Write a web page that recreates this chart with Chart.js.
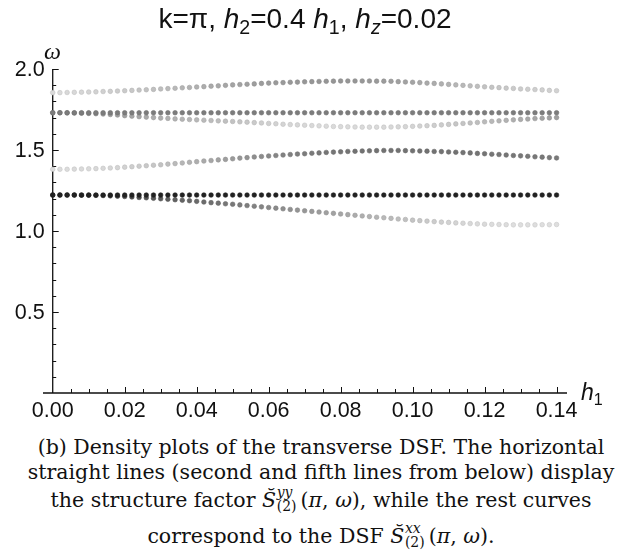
<!DOCTYPE html>
<html>
<head>
<meta charset="utf-8">
<script src="https://cdn.jsdelivr.net/npm/chart.js@4.4.1/dist/chart.umd.min.js"></script>
<style>
  body { margin: 0; background: #fff; }
  #wrap { position: relative; width: 632px; height: 554px; overflow: hidden; }
  #chart { position: absolute; left: 0; top: 0; }
  .lbl { position: absolute; white-space: nowrap; color: #111; }
  .lbl sub { font-size: 0.7em; line-height: 0; vertical-align: baseline; position: relative; top: 0.3em; }
  #title { left: 43px; width: 524px; top: 3px; text-align: center; font: 28px/32px "Liberation Sans", Arial, sans-serif; }
  #omega { left: 44px; top: 38px; font: italic 24px/26px "Liberation Serif", serif; }
  #hlab { left: 581px; top: 379px; font: italic 23px/26px "Liberation Sans", Arial, sans-serif; }
  .cap { position: absolute; left: 0; width: 642px; text-align: center; white-space: nowrap;
         font: 20.5px/1 "DejaVu Serif", serif; color: #111; }
  .ss { position: relative; display: inline-block; width: 1.2em; height: 0; }
  .ss span { position: absolute; left: 0.05em; font-size: 0.68em; line-height: 1; }
  .ss .up { bottom: 0.5em; font-style: italic; }
  .ss .dn { top: -0.5em; }
</style>
</head>
<body>
<div id="wrap">
  <canvas id="chart" width="632" height="430"></canvas>
  <div id="title" class="lbl">k=π, <i>h</i><sub>2</sub>=0.4 <i>h</i><sub>1</sub>, <i>h</i><sub><i>z</i></sub>=0.02</div>
  <div id="omega" class="lbl">ω</div>
  <div id="hlab" class="lbl">h<sub style="font-style:normal">1</sub></div>
  <div class="cap" style="top:437px">(b) Density plots of the transverse DSF. The horizontal</div>
  <div class="cap" style="top:462px">straight lines (second and fifth lines from below) display</div>
  <div class="cap" style="top:490px">the structure factor <i>S̆</i><span class="ss"><span class="up">yy</span><span class="dn">(2)</span></span>(<i>π</i>, <i>ω</i>), while the rest curves</div>
  <div class="cap" style="top:526px">correspond to the DSF <i>S̆</i><span class="ss"><span class="up">xx</span><span class="dn">(2)</span></span>(<i>π</i>, <i>ω</i>).</div>
</div>
<script>
// field h1 (x axis)
const h1 = [
  0.000, 0.002, 0.004, 0.006, 0.008, 0.010, 0.012, 0.014, 0.016, 0.018,
  0.020, 0.022, 0.024, 0.026, 0.028, 0.030, 0.032, 0.034, 0.036, 0.038,
  0.040, 0.042, 0.044, 0.046, 0.048, 0.050, 0.052, 0.054, 0.056, 0.058,
  0.060, 0.062, 0.064, 0.066, 0.068, 0.070, 0.072, 0.074, 0.076, 0.078,
  0.080, 0.082, 0.084, 0.086, 0.088, 0.090, 0.092, 0.094, 0.096, 0.098,
  0.100, 0.102, 0.104, 0.106, 0.108, 0.110, 0.112, 0.114, 0.116, 0.118,
  0.120, 0.122, 0.124, 0.126, 0.128, 0.130, 0.132, 0.134, 0.136, 0.138,
  0.140
];

// S^xx, top branch
const upperXX = [
  1.854, 1.854, 1.855, 1.856, 1.857, 1.858, 1.859, 1.861, 1.862, 1.864,
  1.866, 1.868, 1.870, 1.872, 1.874, 1.877, 1.879, 1.881, 1.884, 1.886,
  1.889, 1.891, 1.894, 1.896, 1.899, 1.902, 1.904, 1.906, 1.908, 1.911,
  1.913, 1.915, 1.916, 1.918, 1.919, 1.921, 1.922, 1.923, 1.924, 1.925,
  1.926, 1.926, 1.926, 1.926, 1.926, 1.925, 1.925, 1.924, 1.922, 1.920,
  1.918, 1.916, 1.913, 1.911, 1.908, 1.905, 1.902, 1.899, 1.896, 1.893,
  1.890, 1.887, 1.885, 1.882, 1.880, 1.877, 1.875, 1.873, 1.871, 1.868,
  1.866
];
const upperXXWeight = [
  6, 6, 7, 7, 8, 9, 10, 11, 12, 13,
  14, 15, 17, 18, 19, 20, 22, 23, 25, 26,
  27, 29, 30, 31, 32, 33, 34, 35, 36, 37,
  37, 38, 38, 39, 39, 40, 40, 40, 40, 40,
  40, 40, 40, 39, 39, 38, 37, 36, 35, 34,
  33, 31, 30, 29, 27, 26, 24, 23, 21, 20,
  18, 17, 16, 15, 14, 13, 12, 12, 11, 11,
  10
];

// S^yy, upper straight line
const upperYY = [
  1.730, 1.730, 1.730, 1.730, 1.730, 1.730, 1.730, 1.730, 1.730, 1.730,
  1.730, 1.730, 1.730, 1.730, 1.730, 1.730, 1.730, 1.730, 1.730, 1.730,
  1.730, 1.730, 1.730, 1.730, 1.730, 1.730, 1.730, 1.730, 1.730, 1.730,
  1.730, 1.730, 1.730, 1.730, 1.730, 1.730, 1.730, 1.730, 1.730, 1.730,
  1.730, 1.730, 1.730, 1.730, 1.730, 1.730, 1.730, 1.730, 1.730, 1.730,
  1.730, 1.730, 1.730, 1.730, 1.730, 1.730, 1.730, 1.730, 1.730, 1.730,
  1.730, 1.730, 1.730, 1.730, 1.730, 1.730, 1.730, 1.730, 1.730, 1.730,
  1.730
];
const upperYYWeight = 53;

// S^xx, branch just below the upper straight line
const dipXX = [
  1.730, 1.730, 1.729, 1.728, 1.727, 1.726, 1.724, 1.722, 1.719, 1.716,
  1.712, 1.709, 1.706, 1.703, 1.700, 1.697, 1.695, 1.692, 1.690, 1.688,
  1.686, 1.684, 1.682, 1.680, 1.678, 1.676, 1.674, 1.672, 1.669, 1.667,
  1.664, 1.662, 1.659, 1.657, 1.655, 1.653, 1.651, 1.649, 1.647, 1.645,
  1.644, 1.643, 1.642, 1.641, 1.641, 1.641, 1.641, 1.642, 1.643, 1.644,
  1.646, 1.648, 1.650, 1.652, 1.655, 1.658, 1.661, 1.664, 1.667, 1.670,
  1.674, 1.677, 1.680, 1.683, 1.686, 1.689, 1.691, 1.694, 1.696, 1.698,
  1.700
];
const dipXXWeight = [
  51, 50, 49, 47, 45, 43, 41, 39, 37, 35,
  34, 32, 31, 30, 29, 28, 27, 26, 25, 24,
  23, 22, 21, 20, 19, 18, 17, 15, 14, 12,
  11, 10, 9, 8, 8, 7, 7, 6, 6, 6,
  6, 6, 6, 6, 6, 6, 7, 7, 8, 8,
  9, 10, 11, 12, 13, 14, 16, 17, 19, 20,
  22, 23, 25, 26, 28, 29, 31, 32, 34, 35,
  36
];

// S^xx, rising middle branch
const riseXX = [
  1.381, 1.381, 1.381, 1.382, 1.383, 1.384, 1.385, 1.387, 1.389, 1.391,
  1.394, 1.397, 1.400, 1.403, 1.406, 1.409, 1.413, 1.416, 1.420, 1.424,
  1.428, 1.432, 1.435, 1.439, 1.442, 1.446, 1.450, 1.453, 1.457, 1.460,
  1.463, 1.466, 1.469, 1.472, 1.475, 1.477, 1.480, 1.482, 1.485, 1.487,
  1.489, 1.491, 1.492, 1.494, 1.495, 1.496, 1.497, 1.497, 1.497, 1.496,
  1.495, 1.494, 1.493, 1.491, 1.490, 1.488, 1.486, 1.484, 1.482, 1.479,
  1.477, 1.474, 1.472, 1.469, 1.466, 1.464, 1.461, 1.458, 1.456, 1.453,
  1.451
];
const riseXXWeight = [
  5, 5, 5, 6, 6, 6, 7, 7, 8, 9,
  10, 12, 13, 15, 16, 18, 20, 22, 24, 26,
  28, 30, 32, 34, 36, 38, 40, 42, 44, 45,
  47, 48, 50, 51, 52, 53, 54, 55, 56, 56,
  57, 57, 58, 58, 58, 58, 58, 58, 58, 58,
  58, 58, 58, 58, 58, 58, 58, 57, 57, 57,
  57, 56, 56, 56, 56, 55, 55, 55, 55, 54,
  54
];

// S^yy, lower straight line
const lowerYY = [
  1.222, 1.222, 1.222, 1.222, 1.222, 1.222, 1.222, 1.222, 1.222, 1.222,
  1.222, 1.222, 1.222, 1.222, 1.222, 1.222, 1.222, 1.222, 1.222, 1.222,
  1.222, 1.222, 1.222, 1.222, 1.222, 1.222, 1.222, 1.222, 1.222, 1.222,
  1.222, 1.222, 1.222, 1.222, 1.222, 1.222, 1.222, 1.222, 1.222, 1.222,
  1.222, 1.222, 1.222, 1.222, 1.222, 1.222, 1.222, 1.222, 1.222, 1.222,
  1.222, 1.222, 1.222, 1.222, 1.222, 1.222, 1.222, 1.222, 1.222, 1.222,
  1.222, 1.222, 1.222, 1.222, 1.222, 1.222, 1.222, 1.222, 1.222, 1.222,
  1.222
];
const lowerYYWeight = 98;

// S^xx, falling lowest branch
const fallXX = [
  1.222, 1.222, 1.222, 1.222, 1.221, 1.221, 1.220, 1.219, 1.217, 1.215,
  1.213, 1.210, 1.207, 1.205, 1.202, 1.199, 1.196, 1.193, 1.190, 1.187,
  1.183, 1.179, 1.175, 1.172, 1.168, 1.165, 1.161, 1.157, 1.153, 1.149,
  1.145, 1.141, 1.137, 1.133, 1.129, 1.125, 1.121, 1.117, 1.113, 1.109,
  1.105, 1.101, 1.097, 1.093, 1.089, 1.085, 1.082, 1.078, 1.074, 1.071,
  1.067, 1.064, 1.061, 1.058, 1.055, 1.053, 1.050, 1.048, 1.046, 1.044,
  1.042, 1.041, 1.040, 1.039, 1.038, 1.038, 1.038, 1.038, 1.039, 1.039,
  1.040
];
const fallXXWeight = [
  95, 94, 93, 91, 89, 87, 85, 83, 81, 79,
  77, 76, 74, 73, 71, 70, 68, 67, 65, 64,
  62, 61, 59, 58, 56, 55, 53, 52, 50, 49,
  47, 46, 44, 43, 41, 40, 38, 37, 35, 34,
  32, 31, 29, 28, 26, 25, 23, 22, 20, 19,
  17, 16, 14, 13, 11, 10, 9, 8, 7, 6,
  6, 5, 5, 5, 4, 4, 4, 4, 4, 4,
  4
];

const xTicks = [0, 0.02, 0.04, 0.06, 0.08, 0.10, 0.12, 0.14];
const yTicks = [0.5, 1.0, 1.5, 2.0];

const tickFont = '21.5px "Liberation Sans"';

function grey(w) {
  const g = Math.round(230 - 2 * w);
  return `rgb(${g},${g},${g})`;
}
function greyEdge(w) {
  const g = Math.round((230 - 2 * w) * 0.9);
  return `rgb(${g},${g},${g})`;
}

function makeSet(omega, weight) {
  const ws = Array.isArray(weight) ? weight : omega.map(() => weight);
  return {
    data: h1.map((h, i) => ({ x: h, y: omega[i] })),
    pointBackgroundColor: ws.map(grey),
    pointBorderColor: ws.map(greyEdge),
    pointBorderWidth: 0.6,
    pointRadius: 2.3,
    showLine: false
  };
}

// axes in the Mathematica style: y axis at h1 = 0, ticks pointing inwards
const axesPlugin = {
  id: "axes",
  beforeDatasetsDraw(chart) {
    const { ctx, scales: { x, y } } = chart;
    const x0 = x.getPixelForValue(0);
    const y0 = y.getPixelForValue(0);
    ctx.save();
    ctx.strokeStyle = "#111";
    ctx.lineWidth = 1.3;
    ctx.beginPath();
    ctx.moveTo(x.left, y0);
    ctx.lineTo(x.right, y0);
    ctx.moveTo(x0, y0);
    ctx.lineTo(x0, y.getPixelForValue(2.0));
    ctx.stroke();

    ctx.lineWidth = 1;
    ctx.beginPath();
    for (let k = 1; k <= 28; k++) {
      const px = Math.round(x.getPixelForValue(k * 0.005)) + 0.5;
      const len = k % 4 === 0 ? 6 : 4;
      ctx.moveTo(px, y0);
      ctx.lineTo(px, y0 - len);
    }
    for (let k = 1; k <= 20; k++) {
      const py = Math.round(y.getPixelForValue(k * 0.1)) + 0.5;
      const len = k % 5 === 0 ? 6 : 3.5;
      ctx.moveTo(x0, py);
      ctx.lineTo(x0 + len, py);
    }
    ctx.stroke();

    ctx.fillStyle = "#111";
    ctx.font = tickFont + ', Arial, sans-serif';
    ctx.textAlign = "center";
    ctx.textBaseline = "alphabetic";
    xTicks.forEach(v => ctx.fillText(v.toFixed(2), x.getPixelForValue(v), y0 + 24));
    ctx.textAlign = "right";
    ctx.textBaseline = "middle";
    yTicks.forEach(v => ctx.fillText(v.toFixed(1), x0 - 8, y.getPixelForValue(v) + 1));
    ctx.restore();
  }
};

function drawChart() {
  new Chart(document.getElementById("chart"), {
    type: "scatter",
    data: {
      datasets: [
        makeSet(lowerYY, lowerYYWeight),
        makeSet(upperYY, upperYYWeight),
        makeSet(riseXX, riseXXWeight),
        makeSet(fallXX, fallXXWeight),
        makeSet(dipXX, dipXXWeight),
        makeSet(upperXX, upperXXWeight)
      ]
    },
    options: {
      responsive: false,
      animation: false,
      devicePixelRatio: 1,
      layout: { padding: { left: 43, right: 65, top: 69, bottom: 37 } },
      plugins: { legend: { display: false }, tooltip: { enabled: false } },
      scales: {
        x: { type: "linear", min: -0.0027, max: 0.1429, display: false },
        y: { type: "linear", min: 0, max: 2.0, display: false }
      }
    },
    plugins: [axesPlugin]
  });
}

// make sure the canvas gets the sans font, not a fallback
document.fonts.load(tickFont).then(drawChart, drawChart);
</script>
</body>
</html>
